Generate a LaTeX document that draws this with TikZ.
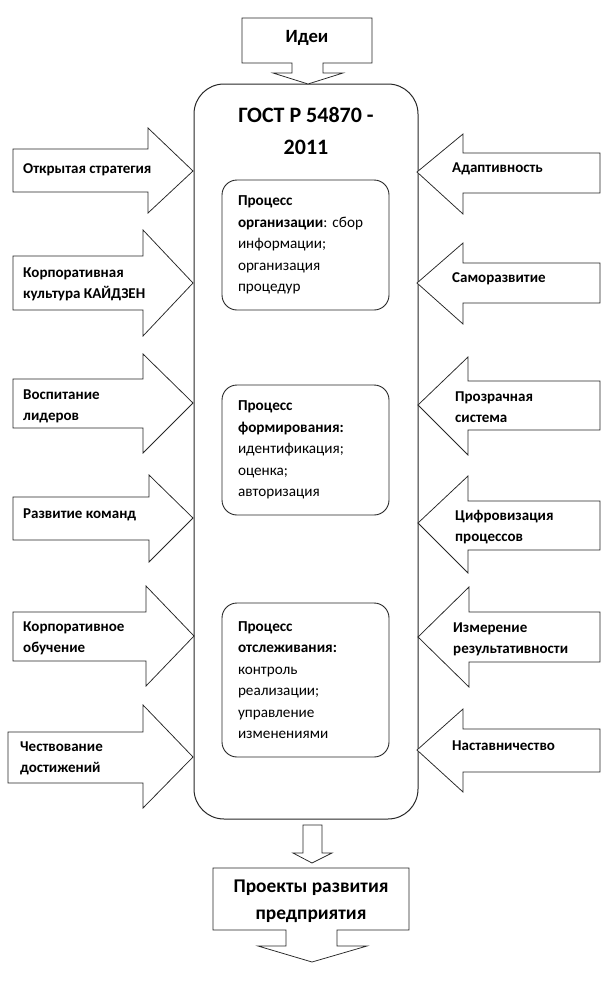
\documentclass[tikz,border=0pt]{standalone}
\usepackage{fontspec}
\setmainfont{Carlito}
\frenchspacing
\begin{document}
\begin{tikzpicture}[x=1pt,y=-1pt]
\tikzset{
  shp/.style={draw=black!85, line width=0.75pt, fill=white, line join=miter},
  mainbox/.style={draw=black!85, line width=1pt, rounded corners=30pt, minimum width=224pt, minimum height=735pt, inner sep=0pt},
  procbox/.style={draw=black!85, line width=0.9pt, rounded corners=15pt, minimum width=167pt, inner xsep=16pt, inner ysep=0pt, text width=135pt, align=left, font=\frenchspacing\fontsize{15.2}{21.5}\selectfont},
  lbl/.style={font=\bfseries\fontsize{15}{21}\selectfont, anchor=west, align=left, inner sep=0pt},
  big/.style={font=\bfseries\fontsize{19.4}{27}\selectfont, align=center, inner sep=0pt},
}
\useasboundingbox (0,0) rectangle (611,985);

% main box
\node[mainbox] (main) at (306,451.5) {};
\node[big, font=\bfseries\fontsize{22}{32}\selectfont] (title) at (306,131) {ГОСТ Р 54870 -\\2011};

% top callout
\draw[shp] (242,18) -- (372,18) -- (372,63) -- (323,63) -- (323,73) -- (343,73) -- (308,84) -- (273,73) -- (292,73) -- (292,63) -- (242,63) -- cycle;
\node[big, font=\bfseries\fontsize{18.7}{20}\selectfont] (idei) at (307,38) {Идеи};

% inner process boxes
\node[procbox, minimum height=130pt] (b1) at (305.5,245) {\textbf{Процесс}\\ \textbf{организации}: сбор\\ информации;\\ организация\\ процедур};
\node[procbox, minimum height=130pt] (b2) at (305.5,450) {\textbf{Процесс}\\ \textbf{формирования:}\\ идентификация;\\ оценка;\\ авторизация};
\node[procbox, minimum height=154pt] (b3) at (305.5,680) {\textbf{Процесс}\\ \textbf{отслеживания:}\\ контроль\\ реализации;\\ управление\\ изменениями};

% left arrows
\draw[shp] (13,149) -- (148,149) -- (148,128) -- (193,171) -- (148,213) -- (148,192) -- (13,192) -- cycle;
\node[lbl] (l1) at (23,170) {Открытая стратегия};
\draw[shp] (13,256) -- (143,256) -- (143,230) -- (193,283) -- (143,336) -- (143,310) -- (13,310) -- cycle;
\node[lbl] (l2) at (23,284) {Корпоративная\\культура КАЙДЗЕН};
\draw[shp] (13,379) -- (143,379) -- (143,354) -- (193,403) -- (143,453) -- (143,428) -- (13,428) -- cycle;
\node[lbl] (l3) at (23,406) {Воспитание\\лидеров};
\draw[shp] (13,497) -- (149,497) -- (149,475) -- (193,518) -- (149,562) -- (149,540) -- (13,540) -- cycle;
\node[lbl] (l4) at (23,515) {Развитие команд};
\draw[shp] (13,612) -- (146,612) -- (146,586) -- (194,636) -- (146,686) -- (146,661) -- (13,661) -- cycle;
\node[lbl] (l5) at (23,638) {Корпоративное\\обучение};
\draw[shp] (8,732) -- (143,732) -- (143,705) -- (193,757) -- (143,808) -- (143,783) -- (8,783) -- cycle;
\node[lbl] (l6) at (20,758) {Чествование\\достижений};

% right arrows
\draw[shp] (600,153) -- (463,153) -- (463,134) -- (417,172) -- (463,214) -- (463,193) -- (600,193) -- cycle;
\node[lbl] (r1) at (452,169) {Адаптивность};
\draw[shp] (600,263) -- (463,263) -- (463,243) -- (417,283) -- (463,324) -- (463,303) -- (600,303) -- cycle;
\node[lbl] (r2) at (452,279) {Саморазвитие};
\draw[shp] (600,381) -- (468,381) -- (468,357) -- (418,405) -- (468,455) -- (468,430) -- (600,430) -- cycle;
\node[lbl] (r3) at (455,407) {Прозрачная\\система};
\draw[shp] (600,501) -- (468,501) -- (468,476) -- (418,523) -- (468,573) -- (468,550) -- (600,550) -- cycle;
\node[lbl] (r4) at (455,527) {Цифровизация\\процессов};
\draw[shp] (600,612) -- (469,612) -- (469,587) -- (418,637) -- (469,687) -- (469,662) -- (600,662) -- cycle;
\node[lbl] (r5) at (453,639) {Измерение\\результативности};
\draw[shp] (600,729) -- (463,729) -- (463,709) -- (417,750) -- (463,792) -- (463,772) -- (600,772) -- cycle;
\node[lbl] (r6) at (452,746) {Наставничество};

% bottom small arrow
\draw[shp] (303,825) -- (322,825) -- (322,853) -- (332,853) -- (312,863) -- (293,853) -- (303,853) -- cycle;

% bottom callout
\draw[shp] (213,868) -- (409,868) -- (409,930) -- (337,930) -- (337,946) -- (367,946) -- (312,962) -- (258,946) -- (286,946) -- (286,930) -- (213,930) -- cycle;
\node[big] (proj) at (311,901.5) {Проекты развития\\предприятия};
\end{tikzpicture}
\end{document}
